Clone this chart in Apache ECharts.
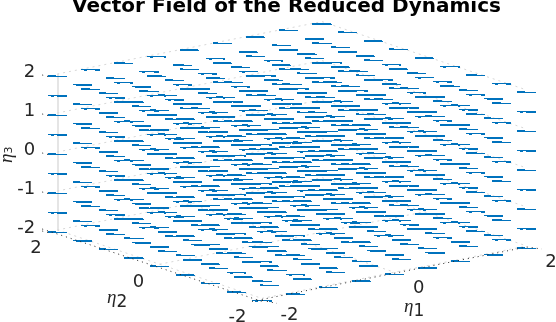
<!DOCTYPE html>
<html><head><meta charset="utf-8">
<style>html,body{margin:0;padding:0;background:#fff;overflow:hidden}#c{width:556px;height:322px}</style>
<script src="https://cdn.jsdelivr.net/npm/echarts@6/dist/echarts.min.js"></script>
</head><body><div id="c"></div>
<script>
// ---- data ----
const titleText = 'Vector Field of the Reduced Dynamics';
const eta1Grid = [-2,-1.5,-1,-0.5,0,0.5,1,1.5,2];
const eta2Grid = [2,1.5,1,0.5,0,-0.5,-1,-1.5,-2];
const eta3Grid = [2,1.5,1,0.5,0,-0.5,-1,-1.5,-2];
// reduced-dynamics field components, per eta3 level (practically flat on screen)
const fieldU = [0.18,0.18,0.18,0.18,0.18,0.18,0.18,0.18,0.18];
const fieldV = [-0.139,-0.139,-0.139,-0.139,-0.139,-0.139,-0.139,-0.139,-0.139];
const fieldW = [0,0,0,0,0,0,0,0,0];
const eta3Ticks = [2,1,0,-1,-2];
const eta2Ticks = [2,0,-2];
const eta1Ticks = [-2,0,2];
// ---- camera of the 3-D view (view units = px of the hidden axes) ----
const cam = {cx:292, cy:162, e1:[66.2,-13.1], e2:[-51.2,-17.1], e3:[0,-39]};
const boxLift = -2;
function proj(a,b,c,lift){
  return [cam.cx+a*cam.e1[0]+b*cam.e2[0]+c*cam.e3[0],
          cam.cy+a*cam.e1[1]+b*cam.e2[1]+c*cam.e3[1]+(lift||0)];
}
// vectors, pivot at the middle
const vectors = [];
eta3Grid.forEach((c,k)=>eta2Grid.forEach(b=>eta1Grid.forEach(a=>{
  vectors.push([a,b,c,fieldU[k],fieldV[k],fieldW[k]]);
})));
function lerp(t,xs,ys){
  for(let i=1;i<xs.length;i++) if(t<=xs[i]) return ys[i-1]+(ys[i]-ys[i-1])*(t-xs[i-1])/(xs[i]-xs[i-1]);
  return ys[ys.length-1];
}
const blue='#0072BD';
function renderVector(params,api){
  const a=api.value(0),b=api.value(1),c=api.value(2),u=api.value(3),v=api.value(4),w=api.value(5);
  const t=api.coord(proj(a-u/2,b-v/2,c-w/2));
  const h=api.coord(proj(a+u/2,b+v/2,c+w/2));
  const x0=Math.round(t[0]), x1=Math.round(h[0]), yc=(t[1]+h[1])/2, len=x1-x0;
  const fr=yc-Math.floor(yc);
  const rects=[];
  const R=(x,y,w2)=>rects.push({type:'rect',shape:{x:x,y:y,width:w2,height:1},style:{fill:blue}});
  if(fr>=0.3&&fr<0.6){
    const row=Math.floor(yc);
    R(x0,row,len);
    R(x0+3,row+1,3);
    const r=Math.round(lerp(fr,[0.3,0.35,0.45,0.5,0.6],[0,2,5,10,19]));
    if(r>0) R(x1-r,row+1,r);
  } else {
    const row=Math.round(yc);
    R(x0,row,len);
    const f=fr>=0.6?fr:fr+1;
    const l=Math.round(lerp(f,[0.6,0.8,0.9,1,1.25,1.3],[19,18,11,8,5,3]));
    R(x0,row-1,l);
  }
  return {type:'group',children:rects,silent:true};
}
// guide lines of the box
const greyLines=[];
eta3Ticks.forEach(z=>{
  greyLines.push([-2,2,z,2,2,z]);
  greyLines.push([2,2,z,2,-2,z]);
});
greyLines.push([-2,2,-2,-2,-2,-2],[-2,-2,-2,2,-2,-2],[0,2,-2,0,-2,-2],[-2,0,-2,2,0,-2]);
function renderGrey(p,api){
  const A=api.coord(proj(api.value(0),api.value(1),api.value(2),boxLift));
  const B=api.coord(proj(api.value(3),api.value(4),api.value(5),boxLift));
  return {type:'line',shape:{x1:A[0],y1:A[1],x2:B[0],y2:B[1]},style:{stroke:'#d8d8d8',lineWidth:1,lineDash:[2,4]},silent:true};
}
function renderAxisZ(p,api){
  const A=api.coord(proj(-2,2,2,boxLift)),B=api.coord(proj(-2,2,-2,boxLift));
  return {type:'line',shape:{x1:A[0]+.8,y1:A[1],x2:B[0]+.8,y2:B[1]},style:{stroke:'#dcdcdc',lineWidth:1.5},silent:true};
}
// black dotted axis rulers
const darkLines=[[-2,2,-2,-2,-2,-2],[-2,-2,-2,2,-2,-2]];
const dots={stroke:'#262626',lineWidth:1,lineDash:[1,4]};
function renderDark(p,api){
  const A=api.coord(proj(api.value(0),api.value(1),api.value(2),boxLift));
  const B=api.coord(proj(api.value(3),api.value(4),api.value(5),boxLift));
  const first=p.dataIndex===0;
  const kids=[
    {type:'line',shape:{x1:A[0]+(first?-15:-10),y1:A[1]+(first?-1:3),x2:B[0],y2:B[1]+(first?3:1)},style:dots},
    {type:'line',shape:{x1:B[0],y1:B[1]+(first?3:1),x2:B[0]+(first?0:15),y2:B[1]+(first?3:3)},style:dots}
  ];
  if(first) kids.push({type:'line',shape:{x1:B[0],y1:B[1]+2,x2:B[0]+15,y2:B[1]+5},style:dots});
  return {type:'group',children:kids,silent:true};
}
// eta3 tick stubs
function renderStub(p,api){
  const A=api.coord(proj(-2,2,api.value(0),boxLift));
  return {type:'line',shape:{x1:A[0]-15,y1:A[1]+1,x2:A[0]-9,y2:A[1]+2.5},style:dots,silent:true};
}
// labels
const txt={fontFamily:'DejaVu Sans',fontSize:18,fill:'#262626'};
function renderLabel(p,api){
  const kind=api.value(0),val=api.value(1);
  let P,o,al;
  if(kind===3){P=api.coord(proj(-2,2,val,boxLift));o=[-22,-1.5];al='right';}
  else if(kind===2){P=api.coord(proj(-2,val,-2,boxLift));o=[-15.5,18.5];al='right';}
  else {P=api.coord(proj(val,-2,-2,boxLift));o=[18.5,16.5];al='left';}
  return {type:'text',x:P[0]+o[0],y:P[1]+o[1],style:Object.assign({text:String(val),align:al,verticalAlign:'middle'},txt),silent:true};
}
const tickRows=[].concat(eta3Ticks.map(v=>[3,v]),eta2Ticks.map(v=>[2,v]),eta1Ticks.map(v=>[1,v]));
const rich={e:{fontFamily:'Liberation Serif',fontStyle:'italic',fontSize:19,fill:'#262626'},
            s:{fontFamily:'DejaVu Sans',fontSize:17,fill:'#262626',padding:[9,0,0,0]},
            s3:{fontFamily:'DejaVu Sans',fontSize:11,fill:'#262626',padding:[5,0,0,0]}};
function axisName(){
  return {type:'group',silent:true,children:[
    {type:'text',x:107,y:285,style:{text:'{e|η}{s|2}',rich:rich}},
    {type:'text',x:404,y:294,style:{text:'{e|η}{s|1}',rich:rich}},
    {type:'text',x:-3,y:163,rotation:Math.PI/2,style:{text:'{e|η}{s3|3}',rich:rich}}
  ]};
}
const chart=echarts.init(document.getElementById('c'),null,{renderer:'canvas'});
chart.setOption({
  animation:false,
  backgroundColor:'#fff',
  title:{text:titleText,left:72,top:-3,padding:0,textStyle:{fontFamily:'DejaVu Sans',fontWeight:'bold',fontSize:20,color:'#000'}},
  grid:{left:0,right:0,top:0,bottom:0},
  xAxis:{type:'value',min:0,max:556,show:false},
  yAxis:{type:'value',min:0,max:322,inverse:true,show:false},
  series:[
    {type:'custom',coordinateSystem:'cartesian2d',renderItem:renderGrey,data:greyLines,z:1,clip:false},
    {type:'custom',coordinateSystem:'cartesian2d',renderItem:renderAxisZ,data:[[0]],z:1},
    {type:'custom',coordinateSystem:'cartesian2d',renderItem:renderVector,data:vectors,z:2,encode:{x:0,y:1}},
    {type:'custom',coordinateSystem:'cartesian2d',renderItem:renderDark,data:darkLines,z:3},
    {type:'custom',coordinateSystem:'cartesian2d',renderItem:renderStub,data:eta3Ticks.map(v=>[v]),z:3},
    {type:'custom',coordinateSystem:'cartesian2d',renderItem:renderLabel,data:tickRows,z:4},
    {type:'custom',coordinateSystem:'cartesian2d',renderItem:axisName,data:[[0]],z:4}
  ]
});
</script></body></html>
